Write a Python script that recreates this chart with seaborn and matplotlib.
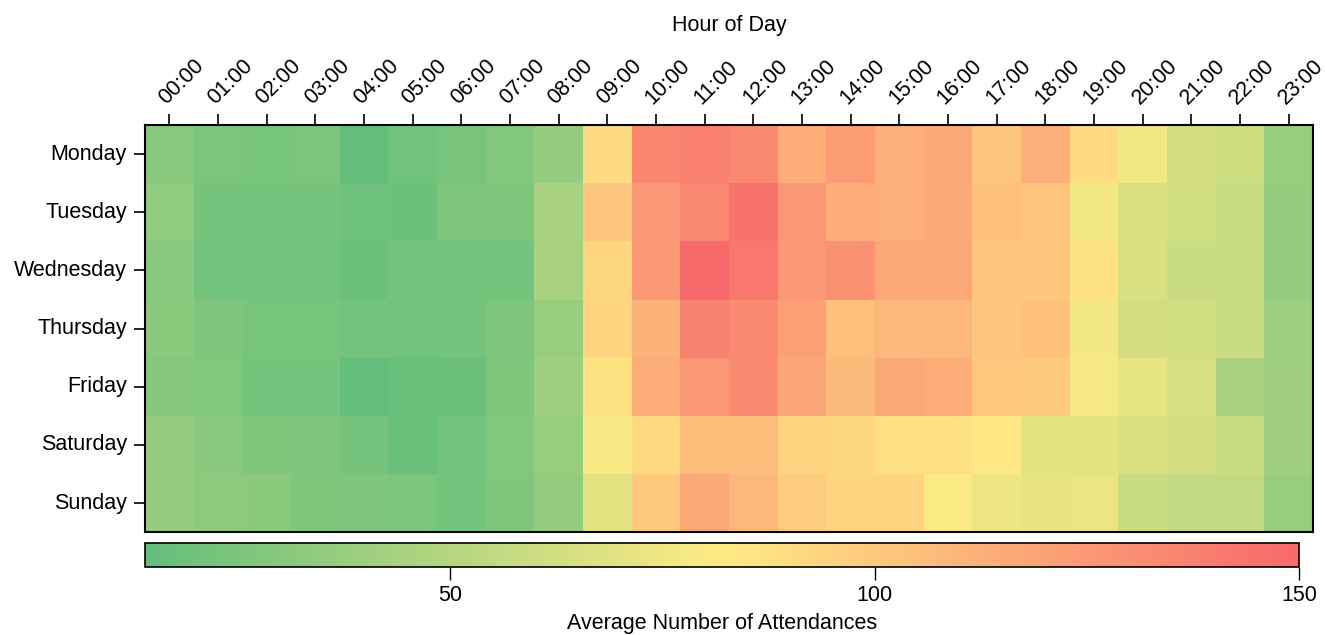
import numpy as np
import pandas as pd
import matplotlib
matplotlib.use("Agg")
import matplotlib.pyplot as plt
import matplotlib.transforms as mtransforms
import seaborn as sns
from matplotlib.colors import LinearSegmentedColormap

days = ["Monday", "Tuesday", "Wednesday", "Thursday", "Friday", "Saturday", "Sunday"]
hours = [f"{h:02d}:00" for h in range(24)]

monday    = [30, 25, 23, 25, 14, 20, 24, 28, 36, 90, 135, 138, 134, 114, 123, 113, 117, 102, 113, 90, 76, 63, 61, 37]
tuesday   = [34, 22, 22, 22, 19, 18, 26, 26, 44, 102, 126, 134, 145, 126, 114, 113, 116, 104, 102, 77, 65, 62, 58, 36]
wednesday = [30, 20, 21, 21, 18, 21, 21, 21, 44, 93, 126, 150, 142, 126, 129, 117, 117, 102, 102, 86, 65, 59, 59, 35]
thursday  = [32, 26, 23, 23, 21, 20, 22, 26, 37, 94, 111, 137, 132, 121, 105, 109, 109, 102, 104, 77, 63, 62, 59, 39]
friday    = [29, 28, 21, 22, 15, 17, 18, 27, 40, 86, 114, 126, 132, 118, 107, 117, 114, 101, 100, 78, 71, 64, 45, 41]
saturday  = [36, 31, 27, 26, 22, 17, 21, 28, 37, 79, 92, 106, 106, 94, 93, 88, 88, 84, 70, 70, 66, 63, 58, 41]
sunday    = [36, 33, 32, 27, 26, 25, 21, 27, 35, 70, 100, 117, 109, 98, 94, 94, 80, 75, 72, 73, 59, 55, 55, 37]

df = pd.DataFrame([monday, tuesday, wednesday, thursday, friday, saturday, sunday],
                  index=days, columns=hours)

sns.set_theme(style="white")
plt.rcParams['font.family'] = ['Liberation Sans', 'DejaVu Sans']
plt.rcParams['text.color'] = 'black'
plt.rcParams['axes.labelcolor'] = 'black'
plt.rcParams['xtick.color'] = 'black'
plt.rcParams['ytick.color'] = 'black'

FS = 15.5

cmap = LinearSegmentedColormap.from_list("gyr", ["#63BE7B", "#FFEB84", "#F8696B"])

fig = plt.figure(figsize=(13.25, 6.35), dpi=100)
ax = fig.add_axes([0.1094, 0.162, 0.8815, 0.641])
cax = fig.add_axes([0.1094, 0.107, 0.871, 0.038])

sns.heatmap(df, ax=ax, cmap=cmap, vmin=14, vmax=150, cbar=True, cbar_ax=cax,
            cbar_kws={"orientation": "horizontal", "ticks": [50, 100, 150]})

ax.xaxis.tick_top()
ax.xaxis.set_label_position("top")
ax.set_xlabel("Hour of Day", fontsize=FS, labelpad=18)
ax.set_ylabel("")
ax.set_xticklabels(hours, rotation=45, ha="left", va="center", rotation_mode="anchor", fontsize=FS)
ax.set_yticklabels(days, rotation=0, fontsize=FS)
ax.tick_params(axis="x", which="major", top=True, bottom=False, length=8, width=1.2,
               color="black", direction="out", pad=9)
ax.tick_params(axis="y", which="major", left=True, length=8, width=1.2, color="black",
               direction="out", pad=5)
offset = mtransforms.ScaledTranslation(-0.07, 0, fig.dpi_scale_trans)
for lbl in ax.get_xticklabels():
    lbl.set_transform(lbl.get_transform() + offset)
for s in ax.spines.values():
    s.set_visible(True)
    s.set_color("black")
    s.set_linewidth(1.5)

cbar = ax.collections[0].colorbar
cbar.outline.set_edgecolor("black")
cbar.outline.set_linewidth(1.2)
cax.tick_params(axis="x", bottom=True, length=9, width=1.0, color="black",
                labelsize=FS, pad=4)
cax.set_xlabel("Average Number of Attendances", fontsize=FS, labelpad=5)

fig.savefig("out.png", dpi=100)
